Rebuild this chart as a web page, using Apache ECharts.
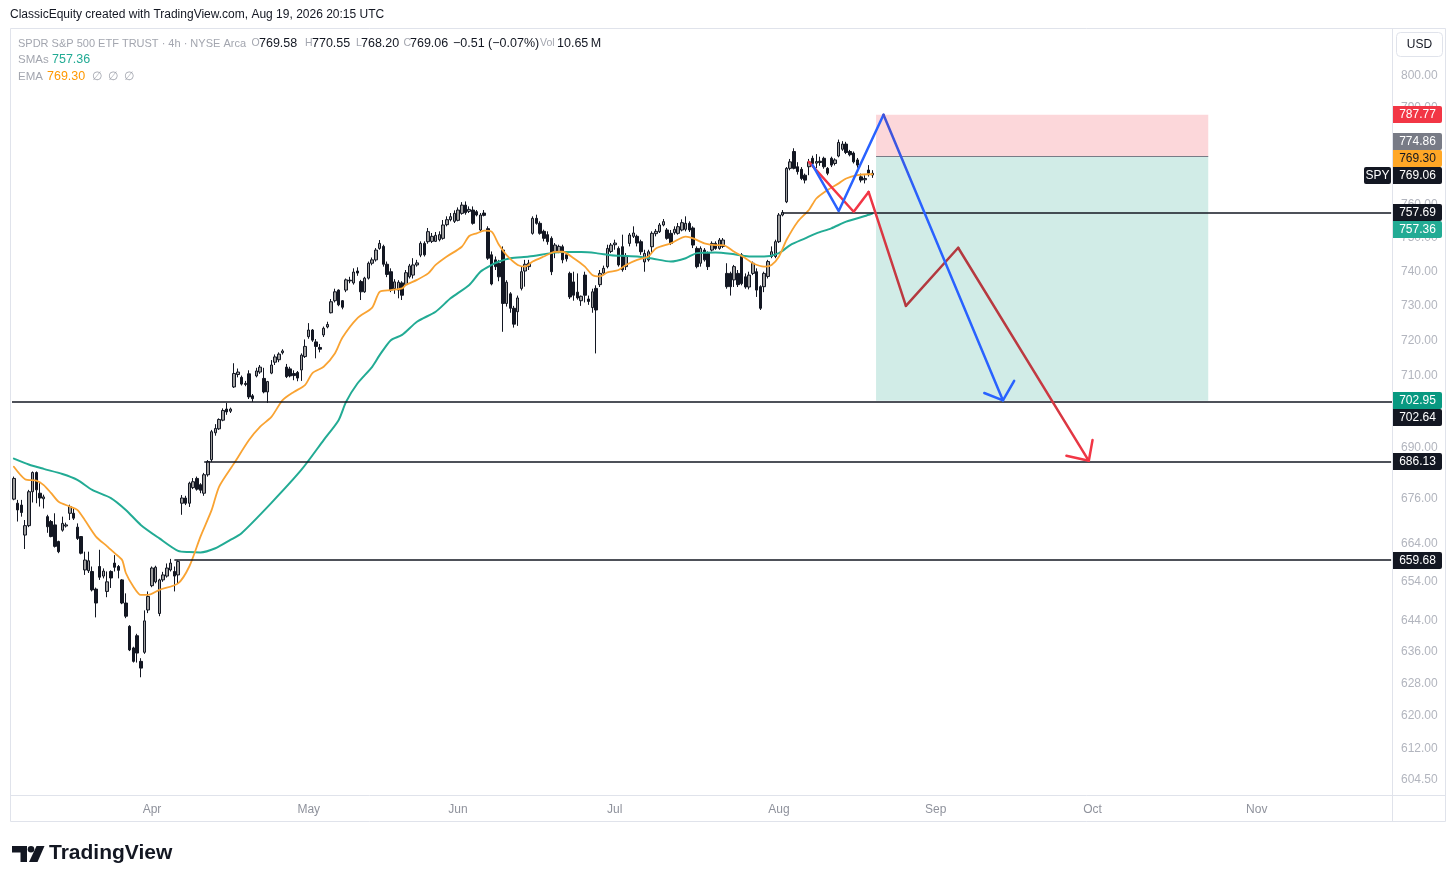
<!DOCTYPE html>
<html><head><meta charset="utf-8">
<script src="https://cdn.jsdelivr.net/npm/echarts@6/dist/echarts.min.js"></script>
<style>html,body{margin:0;padding:0;background:#fff;}#c{width:1456px;height:883px;}</style>
</head><body><div id="c"></div><script>
// ---- candles, rows are [open, high, low, close] (4h bars) ----
const marchBars = [
[675.9,682.0,675.6,681.5],[674.8,675.7,669.9,673.0],[674.3,675.7,671.2,672.3],[666.3,670.3,662.6,668.8],
[668.8,678.4,668.4,677.9],[677.9,683.4,675.0,683.1],[683.1,683.4,674.8,678.4],[677.5,680.2,673.9,676.2],
[676.0,677.1,673.4,676.5],[671.2,671.7,666.9,668.5],[669.9,670.3,665.7,665.9],[669.0,672.1,663.0,663.3],
[664.6,664.8,661.5,661.9],[667.6,671.2,667.2,669.4],[668.7,669.6,668.3,669.0],[672.1,674.4,670.3,673.9],
[672.1,673.5,670.3,670.8],[668.4,669.4,665.0,665.4],[665.9,666.0,661.2,661.5],[657.1,661.9,655.8,659.7],
[656.9,661.9,656.3,659.5],[656.7,658.0,651.5,651.9],[652.1,652.5,644.8,648.5],[658.0,662.4,654.5,655.2],
[655.5,657.5,654.9,656.8],[651.5,656.7,650.0,654.0],[656.7,657.0,652.4,655.0],[658.9,661.0,656.7,657.8],
[658.0,658.4,654.9,657.0],[654.5,654.7,648.2,648.5],[648.5,651.0,644.6,645.1],[642.5,642.8,636.2,636.5],
[637.0,637.3,633.3,633.6],[640.1,640.6,633.3,635.7],[633.6,634.4,629.6,631.9],[635.9,646.6,635.5,643.9],
[646.7,651.5,645.9,650.2]
];
const aprilBars = [
[653.0,658.0,652.6,657.6],[654.0,658.2,653.6,657.8],[645.8,654.8,645.1,654.5],[654.5,656.6,654.0,655.8],
[655.5,658.8,655.1,657.6],[657.1,660.0,656.7,658.9],[656.7,658.0,651.5,655.5],[655.8,659.6,653.7,659.3],
[674.8,677.0,671.7,676.2],[676.2,676.8,674.3,674.8],[674.8,680.6,673.8,680.2],[679.0,681.6,678.6,680.6],
[681.5,682.0,678.2,678.6],[679.8,680.2,677.5,678.3],[677.5,683.0,676.8,682.5],[682.5,686.5,682.0,686.1],
[686.6,694.8,686.0,694.3],[694.0,696.4,693.2,695.2],[695.1,698.0,694.8,697.7],[697.5,700.8,697.2,700.2],
[700.6,702.3,699.0,699.8],[700.0,701.0,699.5,700.6],[706.8,713.5,706.5,710.6],[710.3,712.0,709.5,711.0],
[709.5,710.0,707.2,707.6],[707.8,708.5,707.0,707.5],[710.5,711.5,703.4,704.0],[704.3,704.8,702.6,703.5],
[709.9,712.2,709.5,711.3],[711.0,713.0,710.5,712.4],[709.2,712.2,705.0,705.4],[705.4,708.5,702.3,708.3],
[710.7,714.4,710.4,713.0],[713.8,716.0,713.0,715.3],[714.5,716.6,713.8,716.1],[716.5,717.5,716.0,717.0],
[712.4,713.3,709.3,709.7],[711.9,712.5,709.5,709.9],[710.6,711.5,708.7,710.0],[710.9,711.3,708.4,709.3],
[711.6,716.3,708.5,715.8],[715.4,720.3,715.0,718.3]
];
const mayBars = [
[721.1,725.0,720.5,723.0],[723.0,723.3,719.6,720.1],[719.6,720.4,714.9,718.3],[718.0,719.0,716.6,717.5],
[721.6,724.0,721.0,723.5],[723.9,725.4,723.5,724.6],[728.0,732.0,727.8,731.2],[731.5,735.0,731.0,734.1],
[734.6,734.8,729.9,730.3],[731.5,731.7,729.0,729.6],[734.6,738.0,734.0,737.6],[737.5,738.5,736.6,737.3],
[736.7,741.0,736.2,739.9],[740.2,741.3,738.8,739.6],[737.1,737.6,731.7,734.1],[734.1,738.5,733.8,738.1],
[738.1,743.0,737.7,742.5],[742.5,744.2,741.9,743.5],[743.5,747.0,743.0,746.4],[746.9,749.4,746.5,748.4],
[747.5,748.0,741.5,742.2],[742.2,743.0,738.4,739.2],[740.0,741.0,734.0,734.6],[735.0,737.8,733.5,737.0],
[734.6,737.5,732.2,736.9],[736.7,737.2,731.7,733.1],[736.2,740.5,735.8,739.7],[738.5,742.3,738.0,741.7],
[739.0,744.0,738.0,742.0],[742.0,743.5,741.5,742.6],[744.9,749.0,744.3,748.4],[748.4,749.0,744.5,745.0],
[748.9,753.0,748.3,751.9],[749.0,751.5,748.5,750.5],[749.0,751.8,748.8,750.8],[749.5,752.0,749.0,751.0],
[749.9,755.4,749.5,753.9],[754.0,756.5,753.5,755.5],[755.5,757.5,755.0,756.4],[755.0,758.3,754.5,757.4]
];
const juneBars = [
[755.3,759.2,755.0,758.4],[757.4,760.8,757.0,759.9],[759.9,761.0,757.0,757.6],[758.0,759.5,757.5,758.6],
[758.4,759.5,754.0,754.4],[757.9,758.4,756.5,756.9],[752.4,757.5,751.9,756.9],[757.5,758.4,756.5,756.8],
[752.8,753.5,743.5,744.0],[745.0,746.0,736.0,736.4],[743.5,744.5,740.5,741.5],[742.5,743.5,737.2,738.5],
[746.4,747.5,722.5,730.7],[730.7,737.5,729.8,736.9],[733.5,734.0,728.0,729.3],[729.3,730.0,723.7,724.7],
[728.3,733.0,724.2,732.3],[735.1,741.5,734.5,740.0],[740.2,743.5,735.6,742.2],[741.5,743.5,740.5,742.5],
[751.4,756.5,751.0,755.9],[755.9,757.0,754.0,754.4],[754.4,755.0,751.0,751.4],[752.0,752.5,749.0,749.9],
[751.0,752.0,748.0,748.9],[749.9,750.5,739.0,740.0],[746.0,748.5,744.0,747.9],[746.0,748.0,745.5,747.5],
[747.4,748.0,742.5,743.5],[745.0,745.5,743.0,743.8],[739.5,740.0,732.0,732.6],[737.0,740.0,731.5,733.1],
[734.0,739.5,731.8,732.3],[731.5,733.0,730.0,732.8],[739.0,740.0,731.0,733.1],[732.0,733.0,730.3,731.3],
[729.5,735.0,728.0,734.1],[735.1,736.0,716.3,728.8],[736.2,740.5,735.5,739.5],[739.6,741.8,739.0,741.0],
[741.5,748.0,741.0,746.9],[746.0,748.5,745.5,747.9]
];
const julyBars = [
[748.0,749.5,746.5,748.5],[746.9,747.5,741.5,742.0],[747.4,751.0,740.0,740.6],[741.5,745.5,740.5,744.5],
[748.4,751.5,747.5,750.9],[750.5,753.5,750.0,751.5],[750.5,751.0,747.5,748.5],[748.9,749.5,745.0,745.9],
[742.9,746.5,740.0,745.4],[743.5,746.5,743.0,745.9],[747.4,752.0,745.5,751.4],[751.3,752.7,750.5,752.0],
[751.9,754.5,751.5,753.9],[753.9,755.7,753.5,754.9],[752.4,753.0,749.5,749.9],[751.4,752.4,747.9,748.4],
[751.6,753.5,751.0,752.6],[751.4,754.5,751.0,753.4],[752.4,755.6,752.0,754.6],[752.6,756.5,752.0,754.4],
[754.4,755.0,751.8,752.4],[753.0,753.5,747.0,747.9],[746.9,747.5,741.0,741.5],[742.5,747.5,741.5,746.9],
[746.4,747.0,743.0,743.5],[745.4,746.0,740.5,741.5],[746.4,749.0,746.0,748.4],[748.4,749.0,746.5,746.9],
[746.9,750.0,746.5,749.4],[747.5,750.0,747.0,749.4],[739.5,742.5,735.0,735.6],[739.5,740.0,733.0,735.6],
[737.6,742.0,735.5,741.5],[739.5,740.5,735.5,736.2],[745.0,745.5,736.0,736.5],[738.5,739.5,735.0,735.5],
[735.5,740.0,734.8,739.0],[739.5,743.0,739.0,742.5],[740.0,741.0,732.6,734.6],[735.6,736.0,728.8,729.3],
[735.6,740.0,734.0,739.5],[738.6,743.5,738.0,743.0],[744.5,747.5,744.0,745.9],[744.5,749.5,744.0,748.9]
];
const augustBars = [
[748.9,757.5,748.5,756.9],[756.9,758.4,756.5,757.69],[760.9,771.5,760.5,771.1],[771.1,774.0,770.5,773.1],
[776.3,777.3,770.8,771.1],[771.6,773.0,769.2,770.1],[770.8,771.5,767.5,768.0],[769.0,769.5,766.5,767.5],
[771.6,774.0,769.0,773.1],[774.2,775.0,772.0,772.6],[772.7,775.5,771.2,773.2],[773.3,774.7,771.9,772.9],
[774.2,774.7,771.0,771.6],[771.1,771.5,769.0,769.6],[774.2,774.7,771.5,772.1],[772.6,774.2,772.0,773.7],
[774.9,780.0,774.5,779.1],[777.0,779.5,776.5,778.6],[778.6,779.3,775.5,776.0],[776.3,776.8,774.8,775.3],
[775.8,776.3,772.6,773.1],[773.7,774.3,771.3,772.1],[768.5,769.5,766.8,767.5],[767.6,769.0,766.5,768.0],
[770.6,772.1,768.6,769.57],[769.58,770.55,768.20,769.06]
];
// ---- moving averages: [bar index, price] ----
const emaPoints = [[0,684.7],[3,681.3],[6,680.9],[8,679.7],[10,677.5],[12,675.2],[15,673.9],[17,673.0],[19,670.3],[22,665.9],[25,663.3],[27,661.5],[29,659.7],[30,656.3],[32,652.8],[34,650.6],[36,650.6],[39,651.9],[44,653.6],[47,658.0],[50,665.9],[53,673.0],[55,679.3],[59,685.6],[63,692.0],[66,695.7],[69,698.4],[72,703.1],[75,705.4],[78,707.3],[80,710.7],[83,712.5],[86,716.3],[88,720.8],[92,726.4],[96,729.5],[98,734.1],[101,734.6],[104,735.1],[105,736.1],[108,737.6],[111,739.5],[113,742.0],[116,744.5],[120,747.4],[122,750.6],[124,751.4],[126,752.2],[128,751.9],[130,747.9],[132,744.9],[135,742.0],[137,741.5],[139,743.0],[142,744.5],[145,745.9],[147,745.9],[150,744.0],[153,741.5],[155,739.0],[157,738.6],[159,739.8],[162,740.5],[164,742.0],[167,743.5],[170,744.5],[172,746.9],[176,748.4],[180,750.4],[182,749.9],[185,748.4],[188,747.9],[190,747.9],[193,745.9],[196,744.0],[198,742.5],[201,741.5],[203,742.0],[205,744.5],[207,749.4],[210,754.9],[213,758.4],[215,761.9],[218,764.5],[221,766.5],[223,768.0],[226,769.0],[229,769.3],[230,769.30]];
const smaPoints = [[0,686.9],[4,685.3],[8,684.1],[13,682.7],[17,681.1],[21,678.4],[26,676.2],[30,673.0],[34,669.0],[39,665.4],[44,662.1],[47,661.8],[50,661.7],[54,662.8],[58,665.0],[61,666.8],[69,674.9],[77,683.8],[83,692.0],[87,697.5],[89,702.6],[92,707.7],[96,712.5],[98,715.8],[101,720.1],[104,721.6],[108,725.4],[113,728.3],[117,732.2],[122,736.1],[125,740.0],[128,742.0],[130,743.0],[133,744.0],[138,744.5],[144,745.5],[147,745.8],[152,745.8],[156,745.5],[160,744.9],[163,744.7],[167,744.5],[171,743.9],[176,743.0],[180,744.0],[183,745.5],[188,745.7],[192,745.3],[197,744.5],[201,744.5],[205,745.5],[208,747.9],[212,749.9],[215,751.4],[219,752.9],[223,754.9],[228,756.6],[230,757.36]];
// ---- drawings: [bar index, price] ----
const blueZigzag = [[214,772.1],[221,758.1],[233,787.77],[265,703.0]];
const blueArrowHead = [[260,705.1],[265,703.0],[268,708.5]];
const redZigzag = [[213,773.1],[225,757.9],[229,763.9],[239,730.0],[253,747.1],[288,686.3]];
const redArrowHead = [[282,687.7],[288,686.3],[289,692.0]];
const positionStop = 787.77, positionEntry = 774.86, positionTarget = 702.95;
const positionFromBar = 231, positionToBar = 320;
const levelPrices = [757.69, 702.64, 686.13, 659.68];
const levelFromBars = [206, null, 51, 43];
// ---- price scale ----
const yTickValues = [800,790,760,750,740,730,720,710,690,676,664,654,644,636,628,620,612,604.5];
const tagPrices = [787.77, 774.86, 769.30, 769.06, 757.69, 757.36, 702.95, 702.64, 686.13, 659.68];
// ---- time scale ----
const holidays = ['2026-04-03','2026-05-25','2026-06-19','2026-07-03','2026-09-07','2026-11-26'];
const sessionsPerDay = ['09:30','13:30'];
const firstDay = [2026,2,5];
const slotCount = 370, skipLeading = 1;
const monthNames = ['Jan','Feb','Mar','Apr','May','Jun','Jul','Aug','Sep','Oct','Nov','Dec'];

function buildSlots(){
  const out=[]; const d=new Date(Date.UTC(firstDay[0],firstDay[1],firstDay[2]));
  while(out.length<slotCount+skipLeading){
    const dow=d.getUTCDay(); const iso=d.toISOString().slice(0,10);
    if(dow!==0&&dow!==6&&holidays.indexOf(iso)<0){ sessionsPerDay.forEach(s=>out.push(iso+' '+s)); }
    d.setUTCDate(d.getUTCDate()+1);
  }
  return out.slice(skipLeading, skipLeading+slotCount);
}
const slots = buildSlots();
const monthStart = new Set();
for(let i=1;i<slots.length;i++){ if(slots[i].slice(5,7)!==slots[i-1].slice(5,7)) monthStart.add(i); }
const allBars = [].concat(marchBars,aprilBars,mayBars,juneBars,julyBars,augustBars);
const candleData = allBars.map(r=>[r[0],r[3],r[2],r[1]]);

const FONT='"Liberation Sans", Arial, sans-serif';
const chart = echarts.init(document.getElementById('c'), null, {renderer:'canvas'});

function lineSeries(data,color,width,z){
  return {type:'line',data:data,symbol:'none',showSymbol:false,silent:true,z:z,
    lineStyle:{color:color,width:width,cap:'round',join:'round'},emphasis:{disabled:true},animation:false};
}
function vgrad(stops){ return {type:'linear',x:0,y:0,x2:0,y2:1,colorStops:stops.map(s=>({offset:s[0],color:s[1]}))}; }

const levelMarks = levelPrices.map((p,i)=> levelFromBars[i]==null ? {yAxis:p}
   : [{coord:[levelFromBars[i],p]},{coord:[slotCount-1,p]}]);

const series = [
  {type:'line',data:[],z:1,silent:true,symbol:'none',
    markArea:{silent:true,data:[
      [{coord:[positionFromBar,positionStop],itemStyle:{color:'rgba(242,54,69,0.2)'}},{coord:[positionToBar,positionEntry]}],
      [{coord:[positionFromBar,positionEntry],itemStyle:{color:'rgba(8,153,129,0.19)'}},{coord:[positionToBar,positionTarget]}]
    ]},
    markLine:{silent:true,symbol:['none','none'],label:{show:false},lineStyle:{color:'#787b86',width:1,type:'solid'},
      data:[[{coord:[positionFromBar,positionEntry]},{coord:[positionToBar,positionEntry]}]]}
  },
  {type:'candlestick',data:candleData,z:2,barWidth:3,silent:true,
    itemStyle:{color:'#9e9e9e',color0:'#131722',borderColor:'#131722',borderColor0:'#131722',borderWidth:1}},
  Object.assign(lineSeries(smaPoints,'#22ab94',2,3),{smooth:0.25}),
  Object.assign(lineSeries(emaPoints,'#f9a332',1.8,3),{smooth:0.25}),
  {type:'line',data:[],z:4,silent:true,symbol:'none',
    markLine:{silent:true,symbol:['none','none'],label:{show:false},lineStyle:{color:'#131722',width:1.5,type:'solid'},data:levelMarks}},
  lineSeries(blueZigzag.slice(0,3),'#2962ff',2.5,6),
  lineSeries(blueZigzag.slice(2,4),vgrad([[0,'#4650d0'],[0.3,'#2962ff'],[1,'#2962ff']]),2.5,6),
  lineSeries(blueArrowHead,'#2962ff',2.5,6),
  lineSeries(redZigzag.slice(0,3),'#f23645',2.5,5),
  lineSeries(redZigzag.slice(2,4),vgrad([[0,'#f23645'],[1,'#b3393f']]),2.5,5),
  lineSeries(redZigzag.slice(3,5),'#b3393f',2.5,5),
  lineSeries(redZigzag.slice(4,6),vgrad([[0,'#b3393f'],[0.55,'#bd3a41'],[1,'#f23645']]),2.5,5),
  lineSeries(redArrowHead,'#f23645',2.5,5)
];

function txt(id,x,y,text,fill,size,opts){
  return {type:'text',id:id,x:x,y:y,z:60,silent:true,
    style:{text:text,fill:fill,font:(opts&&opts.weight?opts.weight+' ':'')+size+'px '+FONT,
      textAlign:(opts&&opts.align)||'left',textVerticalAlign:'middle'}};
}
const ink='#131722', lg='#a3a6af';
const staticGraphics = [
  {type:'rect',id:'frame',z:50,silent:true,shape:{x:10.5,y:28.5,width:1435,height:793},style:{fill:'none',stroke:'#e0e3eb',lineWidth:1}},
  {type:'line',id:'sepH',z:50,silent:true,shape:{x1:10.5,y1:795.5,x2:1445.5,y2:795.5},style:{stroke:'#e0e3eb',lineWidth:1}},
  {type:'line',id:'sepV',z:50,silent:true,shape:{x1:1392.5,y1:28.5,x2:1392.5,y2:821.5},style:{stroke:'#e0e3eb',lineWidth:1}},
  {type:'rect',id:'usdBox',z:50,silent:true,shape:{x:1396.5,y:32.5,width:46,height:24,r:4},style:{fill:'#fff',stroke:'#e0e3eb',lineWidth:1}},
  txt('usd',1419.5,44.5,'USD',ink,12,{align:'center'}),
  txt('h0',10,15,'ClassicEquity created with TradingView.com, Aug 19, 2026 20:15 UTC',ink,12),
  txt('h1',18,43.5,'SPDR S&P 500 ETF TRUST · 4h · NYSE Arca',lg,11),
  txt('h2',251.5,43.5,'O',lg,10.5), txt('h3',259,43.5,'769.58',ink,12.5),
  txt('h4',305,43.5,'H',lg,10.5), txt('h5',312,43.5,'770.55',ink,12.5),
  txt('h6',356,43.5,'L',lg,10.5), txt('h7',361,43.5,'768.20',ink,12.5),
  txt('h8',403.5,43.5,'C',lg,10.5), txt('h9',410,43.5,'769.06',ink,12.5),
  txt('h10',453,43.5,'\u22120.51 (\u22120.07%)',ink,12.5),
  txt('h11',540,43.5,'Vol',lg,10.5), txt('h12',557,43.5,'10.65\u2009M',ink,12.5),
  txt('h13',18,60,'SMAs',lg,11.5), txt('h14',52,60,'757.36','#22ab94',12.5),
  txt('h15',18,77,'EMA',lg,11.5), txt('h16',47,77,'769.30','#ff9800',12.5),
  txt('h17',92,77,'\u2205',lg,12), txt('h18',108,77,'\u2205',lg,12), txt('h19',124,77,'\u2205',lg,12),
  {type:'polygon',id:'lg1',z:60,silent:true,shape:{points:[[12,846],[27,846],[27,862],[20.5,862],[20.5,852.5],[12,852.5]]},style:{fill:ink}},
  {type:'circle',id:'lg2',z:60,silent:true,shape:{cx:31,cy:849.3,r:3.3},style:{fill:ink}},
  {type:'polygon',id:'lg3',z:60,silent:true,shape:{points:[[36.5,846],[44.5,846],[37.5,862],[29,862]]},style:{fill:ink}},
  txt('wm',49,853,'TradingView',ink,21,{weight:'bold'})
];

const option = {
  animation:false, backgroundColor:'#ffffff',
  textStyle:{fontFamily:FONT},
  grid:{left:12,right:63,top:28,bottom:88,containLabel:false},
  xAxis:{type:'category',data:slots,boundaryGap:true,axisLine:{show:false,onZero:false},axisTick:{show:false},splitLine:{show:false},
    axisLabel:{interval:(i)=>monthStart.has(i),formatter:(v)=>monthNames[Number(v.slice(5,7))-1],color:'#8f929c',fontSize:12,margin:9,fontFamily:FONT}},
  yAxis:{type:'log',logBase:10,min:600.75,max:815.45,position:'right',axisLine:{show:false},axisTick:{show:false},splitLine:{show:false},
    axisLabel:{customValues:yTickValues,formatter:(v)=>Number(v).toFixed(2),color:'#b2b5be',fontSize:12,margin:8,fontFamily:FONT}},
  series:series,
  graphic:staticGraphics
};
chart.setOption(option);

// ---- price tags on the scale, stacked like the original when they collide ----
const tagLooks = [
  {bg:'#f23645',fg:'#fff',pin:true},{bg:'#787b86',fg:'#fff'},{bg:'#ffa726',fg:ink},
  {bg:'#131722',fg:'#fff',pin:true,prefix:'SPY'},{bg:'#131722',fg:'#fff',pin:true},{bg:'#22ab94',fg:'#fff'},
  {bg:'#089981',fg:'#fff',pin:true},{bg:'#131722',fg:'#fff'},{bg:'#131722',fg:'#fff',pin:true},{bg:'#131722',fg:'#fff',pin:true}
];
const H=17;
const placed=[];
const tags = tagPrices.map((p,i)=>({p:p,look:tagLooks[i],y0:chart.convertToPixel({yAxisIndex:0},p)}));
tags.filter(t=>t.look.pin).forEach(t=>{t.y=t.y0;placed.push(t);});
[2,1,5,7].forEach(i=>{
  const t=tags[i]; let y=t.y0; let guard=0;
  while(guard++<10){
    const b=placed.find(q=>Math.abs(q.y-y)<H-0.01);
    if(!b) break;
    y = (t.y0<=b.y) ? b.y-H : b.y+H;
  }
  t.y=y; placed.push(t);
});
const tagEls=[];
tags.forEach((t,i)=>{
  const top=Math.round(t.y-H/2);
  tagEls.push({type:'rect',id:'tr'+i,z:70,silent:true,shape:{x:1393,y:top,width:49,height:H,r:[0,2,2,0]},style:{fill:t.look.bg}});
  const e=txt('tt'+i,1417.5,top+H/2+0.5,t.p.toFixed(2),t.look.fg,12,{align:'center'}); e.z=71; tagEls.push(e);
  if(t.look.prefix){
    tagEls.push({type:'rect',id:'tp'+i,z:70,silent:true,shape:{x:1364,y:top,width:27,height:H,r:2},style:{fill:t.look.bg}});
    const f=txt('tq'+i,1377.5,top+H/2+0.5,t.look.prefix,t.look.fg,12,{align:'center'}); f.z=71; tagEls.push(f);
  }
});
option.graphic = staticGraphics.concat(tagEls);
chart.setOption(option,true);
</script></body></html>
